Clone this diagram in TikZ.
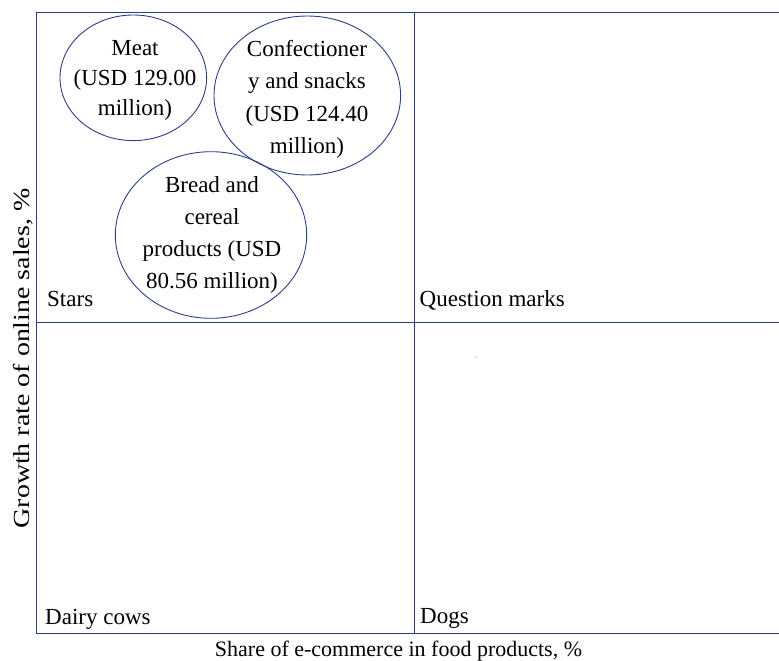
\documentclass[tikz,border=0pt]{standalone}
\usepackage{fontspec}
\setmainfont{Liberation Serif}
\usetikzlibrary{shapes.geometric}
\definecolor{gridblue}{RGB}{43,63,135}
\begin{document}
\begin{tikzpicture}[x=1pt,y=-1pt,
  gridline/.style={draw=gridblue,line width=1pt},
  bubble/.style={ellipse,draw=gridblue,line width=0.9pt,inner sep=0pt},
  bubbletext/.style={inner sep=0pt,align=center,text=black},
  quadlabel/.style={anchor=base west,inner sep=0pt,text=black},
  axislabel/.style={inner sep=0pt,text=black},
  every node/.append style={font=\fontsize{23}{30}\selectfont}]
\useasboundingbox (0,0) rectangle (779,661);
% grid corners
\coordinate (tl) at (36.5,12.5);
\coordinate (tm) at (414.5,12.5);
\coordinate (tr) at (779,12.5);
\coordinate (ml) at (36.5,322.5);
\coordinate (mr) at (779,322.5);
\coordinate (bl) at (36.5,633.5);
\coordinate (bm) at (414.5,634);
\coordinate (br) at (779,633.5);
\draw[gridline] (tl) -- (tr);
\draw[gridline] (tl) -- (bl);
\draw[gridline] (tm) -- (bm);
\draw[gridline] (ml) -- (mr);
\draw[gridline] (bl) -- (br);
% bubbles
\node[bubble,minimum width=146.6pt,minimum height=125.6pt] (meat) at (133.3,77.8) {};
\node[bubble,minimum width=186.6pt,minimum height=159pt] (conf) at (307.3,95.5) {};
\node[bubble,minimum width=191.4pt,minimum height=166.6pt] (bread) at (211,235) {};
\node[bubbletext] (meattext) at (135,80.4) {Meat\\(USD 129.00\\million)};
\node[bubbletext,font=\fontsize{23}{32.5}\selectfont] (conftext) at (307,99.5)
  {Confectioner\\y and snacks\\(USD 124.40\\million)};
\node[bubbletext,font=\fontsize{23}{32}\selectfont] (breadtext) at (212,234.5)
  {Bread and\\cereal\\products (USD\\80.56 million)};
% quadrant labels
\node[quadlabel] (stars) at (47,306) {Stars};
\node[quadlabel] (qm) at (419.5,306) {Question marks};
\node[quadlabel] (dairy) at (45,624) {Dairy cows};
\node[quadlabel] (dogs) at (420,623) {Dogs};
% axis labels
\node[axislabel,anchor=base,font=\fontsize{22}{28}\selectfont] (xlab) at (398.5,656) {Share of e-commerce in food products, \%};
\node[axislabel,anchor=base,rotate=90] (ylab) at (29.5,358.5) {\scalebox{1.215}[1]{Growth rate of online sales, \%}};
% stray dot
\fill[gridblue] (476,357) circle (0.5pt);
\end{tikzpicture}
\end{document}
